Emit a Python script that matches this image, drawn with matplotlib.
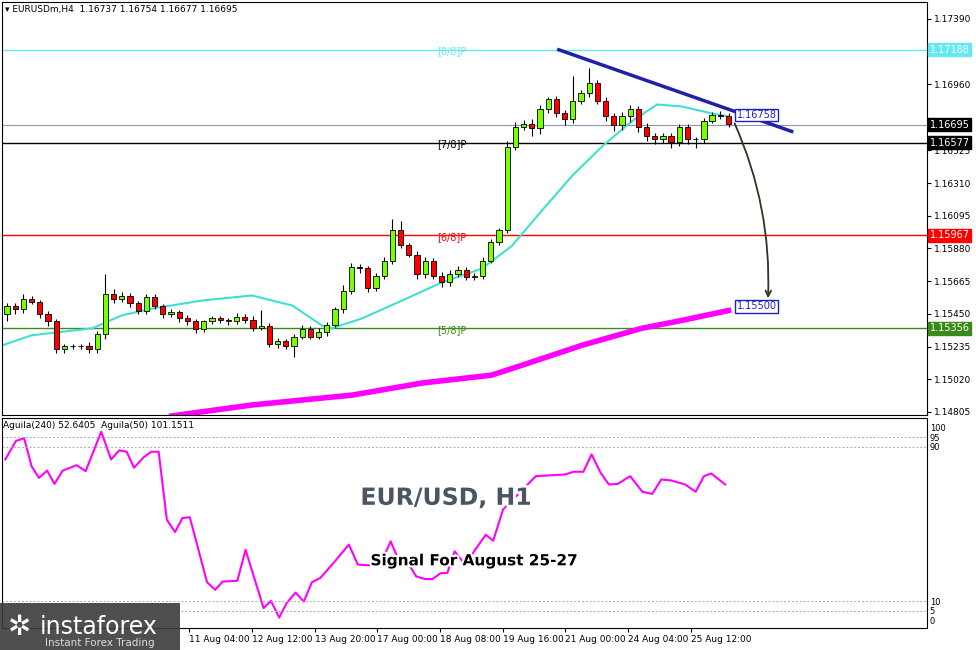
import numpy as np
import matplotlib
matplotlib.use("Agg")
import matplotlib.pyplot as plt
import matplotlib.patheffects as pe
from matplotlib.patches import Rectangle

# H4 closes (first open given separately)
first_open = 1.1545
closes = [1.1550, 1.1548, 1.1555, 1.1553, 1.1545, 1.1540, 1.1522, 1.1524, 1.1524, 1.1524,
          1.1522, 1.1532, 1.1558, 1.1555, 1.1557, 1.1552, 1.1547, 1.1556, 1.1550, 1.1545,
          1.1546, 1.1542, 1.1540, 1.1535, 1.1540, 1.1542, 1.1541, 1.1540, 1.1543, 1.1541,
          1.1536, 1.1537, 1.1525, 1.1527, 1.1524, 1.1530, 1.1535, 1.1530, 1.1533, 1.1538,
          1.1548, 1.1560, 1.1576, 1.1575, 1.1562, 1.1570, 1.1580, 1.1600, 1.1590, 1.1584,
          1.1571, 1.1580, 1.1570, 1.1566, 1.1571, 1.1574, 1.1569, 1.1570, 1.1580, 1.1592,
          1.1600, 1.1655, 1.1668, 1.1670, 1.1667, 1.1680, 1.1686, 1.1677, 1.1673, 1.1685,
          1.1690, 1.1697, 1.1685, 1.1675, 1.1669, 1.1675, 1.1680, 1.1668, 1.1662, 1.1660,
          1.1662, 1.1658, 1.1668, 1.1660, 1.1660, 1.1672, 1.1676, 1.1675, 1.1670]
# wick lengths in pips
wick_up = [4, 4, 5, 3, 2, 3, 3, 2, 2, 2, 4, 3, 22, 6, 4, 3, 2, 4, 3, 3,
           4, 3, 4, 3, 2, 3, 3, 2, 4, 3, 4, 18, 3, 4, 3, 3, 4, 3, 4, 3,
           2, 7, 4, 3, 3, 3, 4, 12, 10, 3, 4, 4, 3, 4, 5, 4, 3, 3, 4, 4,
           3, 6, 5, 4, 5, 4, 3, 4, 3, 27, 4, 16, 3, 4, 3, 5, 4, 3, 4, 3,
           3, 3, 3, 3, 2, 3, 3, 4, 3]
wick_dn = [8, 5, 4, 3, 4, 5, 4, 5, 3, 3, 5, 4, 6, 5, 4, 4, 4, 4, 3, 4,
           3, 4, 4, 4, 3, 3, 3, 4, 3, 3, 4, 3, 3, 4, 4, 12, 3, 3, 3, 4,
           3, 4, 3, 5, 4, 3, 3, 4, 3, 3, 5, 4, 3, 6, 4, 3, 3, 3, 3, 3,
           3, 3, 4, 4, 8, 6, 5, 4, 6, 4, 3, 4, 3, 5, 6, 5, 6, 6, 5, 5,
           4, 6, 4, 5, 10, 4, 3, 3, 3]

ma_fast_x = [-0.6, 3.0, 10.4, 14.0, 17.7, 23.8, 29.9, 34.8, 38.4, 39.6, 43.3, 48.2,
             53.0, 57.9, 61.6, 65.2, 68.9, 72.6, 76.2, 79.3, 82.3, 86.0, 88.0]
ma_fast = [1.15243, 1.15309, 1.15355, 1.15440, 1.15485, 1.15538, 1.15571, 1.15505,
           1.15374, 1.15355, 1.15420, 1.15538, 1.15656, 1.15747, 1.15898, 1.16127,
           1.16356, 1.16552, 1.16716, 1.16827, 1.16814, 1.16768, 1.16748]
ma_slow_x = [20.1, 29.9, 42.1, 50.6, 59.1, 62.8, 70.1, 77.4, 82.3, 88.0]
ma_slow = [1.14779, 1.14851, 1.14916, 1.14995, 1.15047, 1.15112, 1.15243, 1.15355,
           1.15407, 1.15472]

levels = [1.17188, 1.16577, 1.15967, 1.15356]
level_names = ["[8/8]P", "[7/8]P", "[6/8]P", "[5/8]P"]
level_colors = ["#66E8F0", "black", "red", "#3A8A1A"]
current_price = 1.16695

trend_x = [67.3, 95.7]
trend_y = [1.17187, 1.16650]

yticks = [1.17390, 1.17170, 1.16960, 1.16740, 1.16525, 1.16310, 1.16095, 1.15880,
          1.15665, 1.15450, 1.15235, 1.15020, 1.14805]
hidden_ticks = [1.17170, 1.16740]  # covered by price boxes

osc_x = [-0.2, 1.1, 2.1, 3.0, 3.9, 4.9, 5.8, 6.8, 8.5, 9.6, 11.5, 12.7, 13.7, 14.6, 15.5,
         16.7, 17.6, 18.5, 19.5, 20.5, 21.4, 22.3, 24.4, 25.4, 26.3, 28.1, 29.1, 31.3,
         32.2, 33.2, 34.1, 35.2, 36.2, 37.2, 38.2, 40.0, 41.7, 42.8, 44.2, 45.7, 46.8,
         48.0, 49.1, 49.9, 51.0, 51.9, 52.9, 53.7, 54.6, 55.9, 57.1, 58.4, 59.3, 60.5,
         64.5, 68.1, 69.1, 70.3, 71.3, 72.4, 73.4, 74.5, 76.0, 77.5, 78.7, 79.8, 81.0,
         82.7, 84.0, 85.0, 85.9, 87.6]
osc = [83.5, 93.1, 94.5, 80.0, 73.9, 77.7, 70.8, 77.7, 80.5, 77.4, 97.9, 83.5, 88.2, 87.5,
       79.2, 84.7, 87.5, 87.5, 52.2, 45.8, 53.1, 53.5, 19.8, 15.8, 20.1, 20.5, 36.6, 6.3,
       10.1, 1.4, 8.9, 14.4, 9.7, 19.8, 21.9, 30.6, 39.3, 28.9, 28.5, 30.6, 41.0, 28.9,
       28.5, 22.8, 21.4, 21.4, 24.5, 24.5, 35.8, 28.9, 36.6, 44.4, 41.3, 57.5, 74.8, 75.7,
       77.1, 77.1, 86.1, 76.6, 70.5, 70.8, 74.8, 66.7, 65.6, 73.1, 72.6, 70.5, 66.7, 74.8,
       76.2, 70.5]

date_pos = [22.2, 29.9, 37.6, 45.1, 52.8, 60.5, 68.0, 75.7, 83.4]
date_labels = ["11 Aug 04:00", "12 Aug 12:00", "13 Aug 20:00", "17 Aug 00:00", "18 Aug 08:00",
               "19 Aug 16:00", "21 Aug 00:00", "24 Aug 04:00", "25 Aug 12:00"]

W, H = 976, 650
fig = plt.figure(figsize=(W / 100, H / 100), dpi=100)
ax = fig.add_axes([0.002, 1 - 415 / H, 925 / W, 413 / H])
ax2 = fig.add_axes([0.002, 1 - 628 / H, 925 / W, 210 / H])
xlim = (-0.61, 112.2)
ylim = (1.14785, 1.17501)

# candles
opens = [first_open] + closes[:-1]
for i, (o, c) in enumerate(zip(opens, closes)):
    top, bot = max(o, c), min(o, c)
    if top - bot < 0.00004:
        top, bot = (o + c) / 2 + 0.00002, (o + c) / 2 - 0.00002
    ax.vlines(i, bot - wick_dn[i] * 1e-4 * 0.6, top + wick_up[i] * 1e-4 * 0.6, color="black", lw=0.8, zorder=3)
    ax.add_patch(Rectangle((i - 0.32, bot), 0.64, top - bot, facecolor="#7CFC00" if c >= o else "red",
                           edgecolor="black", lw=0.6, zorder=4))

ax.plot(ma_fast_x, ma_fast, color="#40E0D0", lw=1.5, zorder=2)
ax.plot(ma_slow_x, ma_slow, color="#FF00FF", lw=4, zorder=2)

for lv, nm, col in zip(levels, level_names, level_colors):
    ax.axhline(lv, color=col, lw=1.0, zorder=1)
    ax.text(52.5, lv - 0.00013, nm, color=col, fontsize=7, ha="left", va="center")
    ax.text(1.003, lv, f"{lv:.5f}", transform=ax.get_yaxis_transform(), fontsize=7, color="white",
            ha="left", va="center", bbox=dict(boxstyle="square,pad=0.15", fc=col, ec=col))
ax.axhline(current_price, color="#8899AA", lw=0.8, zorder=1)
ax.text(1.003, current_price, f"{current_price:.5f}", transform=ax.get_yaxis_transform(), fontsize=7,
        color="white", ha="left", va="center", bbox=dict(boxstyle="square,pad=0.15", fc="black", ec="black"))

ax.plot(trend_x, trend_y, color="#2020A8", lw=2.5, zorder=5)
ax.text(89.0, 1.16758, "1.16758", fontsize=7, color="#2020C0", va="center",
        bbox=dict(boxstyle="square,pad=0.15", fc="white", ec="#2020C0"), zorder=6)
ax.text(89.0, 1.15500, "1.15500", fontsize=7, color="#2020C0", va="center",
        bbox=dict(boxstyle="square,pad=0.15", fc="white", ec="#2020C0"), zorder=6)
ax.annotate("", xy=(92.8, 1.15535), xytext=(88.6, 1.16720),
            arrowprops=dict(arrowstyle="->", color="#333322", lw=1.3, connectionstyle="arc3,rad=-0.12"),
            zorder=6)

ax.set_xlim(*xlim)
ax.set_ylim(*ylim)
ax.yaxis.tick_right()
ax.set_yticks(yticks)
ax.set_yticklabels(["" if t in hidden_ticks else f"{t:.5f}" for t in yticks], fontsize=6.5)
ax.tick_params(axis="y", length=3, pad=2)
ax.set_xticks([])
ax.text(0.003, 0.992, "▾ EURUSDm,H4  1.16737 1.16754 1.16677 1.16695", transform=ax.transAxes,
        fontsize=6.5, va="top")

# oscillator
ax2.plot(osc_x, osc, color="#FF00FF", lw=1.5)
for lv in [95, 90, 10, 5]:
    ax2.axhline(lv, color="#AAAAAA", lw=0.7, ls=(0, (2, 2)))
ax2.set_xlim(*xlim)
ax2.set_ylim(-4, 105)
ax2.yaxis.tick_right()
ax2.set_yticks([100, 95, 90, 10, 5, 0])
ax2.set_yticklabels(["100", "95", "90", "10", "5", "0"], fontsize=6)
ax2.tick_params(axis="y", length=0, pad=2)
ax2.set_xticks(date_pos)
ax2.set_xticklabels(date_labels, fontsize=6.5, ha="left")
ax2.tick_params(axis="x", length=3, pad=2)
ax2.text(0.001, 0.985, "Aguila(240) 52.6405  Aguila(50) 101.1511", transform=ax2.transAxes,
         fontsize=6.5, va="top")
ax2.text(0.48, 0.62, "EUR/USD, H1", transform=ax2.transAxes, fontsize=17, fontweight="bold",
         color="#4A5560", ha="center", va="center",
         path_effects=[pe.withStroke(linewidth=4, foreground="white")])
ax2.text(0.51, 0.32, "Signal For August 25-27", transform=ax2.transAxes, fontsize=11,
         fontweight="bold", color="black", ha="center", va="center",
         path_effects=[pe.withStroke(linewidth=3, foreground="white")])

# logo
fig.patches.append(Rectangle((0, 0), 180 / W, 47 / H, transform=fig.transFigure,
                             facecolor="#3C3C3C", alpha=0.9, zorder=10))
fig.text(40 / W, 23 / H, "instaforex", fontsize=17, color="white", va="center", zorder=11)
fig.text(45 / W, 7 / H, "Instant Forex Trading", fontsize=7.5, color="#DDDDDD", va="center", zorder=11)
fig.text(20 / W, 23 / H, "✲", fontsize=20, color="white", ha="center", va="center", zorder=11)

fig.savefig("out.png", dpi=100)
